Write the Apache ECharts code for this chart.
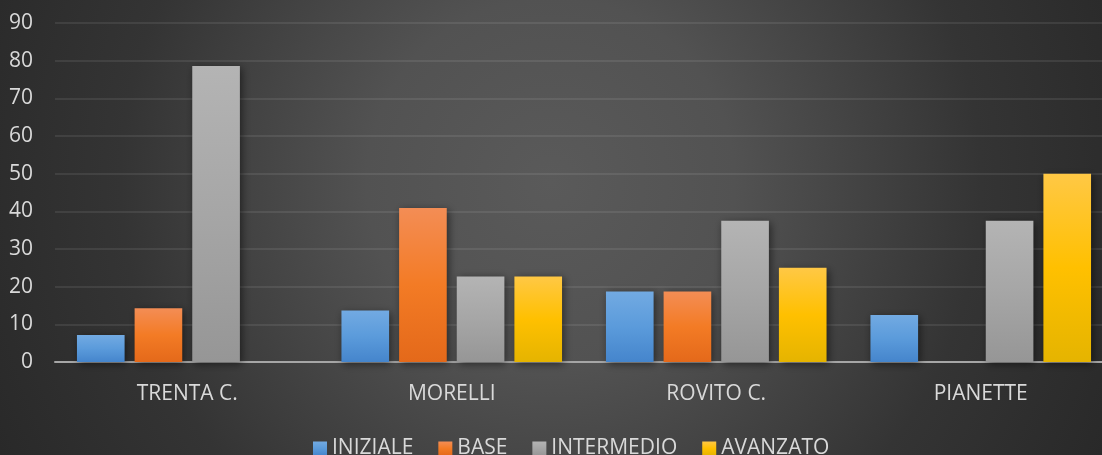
<!DOCTYPE html>
<html>
<head>
<meta charset="utf-8">
<script src="https://cdn.jsdelivr.net/npm/echarts@6/dist/echarts.min.js"></script>
<style>
  html, body { margin: 0; padding: 0; background: #333; }
  #chart { width: 1102px; height: 455px; }
</style>
</head>
<body>
<div id="chart"></div>
<script>
const categories = ['TRENTA C.', 'MORELLI', 'ROVITO C.', 'PIANETTE'];
const iniziale = [7.14, 13.64, 18.75, 12.5];
const base = [14.29, 40.91, 18.75, 0];
const intermedio = [78.57, 22.73, 37.5, 37.5];
const avanzato = [0, 22.73, 25, 50];

const fontFamily = '"Open Sans", "Noto Sans", sans-serif';

// vertical gradient for each bar series: top, middle, bottom
const grad = (top, mid, bottom) => new echarts.graphic.LinearGradient(0, 0, 0, 1, [
  { offset: 0, color: top },
  { offset: 0.5, color: mid },
  { offset: 1, color: bottom },
]);

const makeSeries = (name, data, fill) => ({
  name,
  type: 'bar',
  data,
  barGap: '21%',
  barCategoryGap: '16.6%',
  itemStyle: {
    color: fill,
    shadowBlur: 8,
    shadowColor: 'rgba(0,0,0,0.5)',
    shadowOffsetX: 2,
    shadowOffsetY: 2,
  },
  emphasis: { disabled: true },
});

const chart = echarts.init(document.getElementById('chart'));
chart.setOption({
  animation: false,
  backgroundColor: new echarts.graphic.RadialGradient(0.5, 0.4, 1.35, [
    { offset: 0, color: '#5a5a5a' },
    { offset: 0.3, color: '#525252' },
    { offset: 0.7, color: '#343434' },
    { offset: 1, color: '#292929' },
  ]),
  textStyle: { fontFamily },
  grid: { left: 55, width: 1058, top: 23, height: 339, outerBoundsMode: 'none', containLabel: false },
  legend: {
    top: 433,
    left: 308,
    itemWidth: 14,
    itemHeight: 14,
    itemGap: 25,
    icon: 'rect',
    textStyle: { color: '#d9d9d9', fontSize: 21, fontFamily },
    data: ['INIZIALE', 'BASE', 'INTERMEDIO', 'AVANZATO'],
  },
  xAxis: {
    type: 'category',
    data: categories,
    axisLine: { lineStyle: { color: '#a6a6a6', width: 2 } },
    axisTick: { show: false },
    axisLabel: { color: '#d9d9d9', fontSize: 21, margin: 22, fontFamily },
  },
  yAxis: {
    type: 'value',
    min: 0,
    max: 90,
    interval: 10,
    axisLine: { show: false },
    axisTick: { show: false },
    axisLabel: { color: '#d9d9d9', fontSize: 21, margin: 22, fontFamily },
    splitLine: { lineStyle: { color: 'rgba(255,255,255,0.11)', width: 1.5 } },
  },
  series: [
    makeSeries('INIZIALE', iniziale, grad('#72aae2', '#5b9bdb', '#4585cc')),
    makeSeries('BASE', base, grad('#f38d55', '#f37b25', '#e4691a')),
    makeSeries('INTERMEDIO', intermedio, grad('#b4b4b4', '#a6a6a6', '#969696')),
    makeSeries('AVANZATO', avanzato, grad('#ffc845', '#ffc000', '#e5b400')),
  ],
});
</script>
</body>
</html>
